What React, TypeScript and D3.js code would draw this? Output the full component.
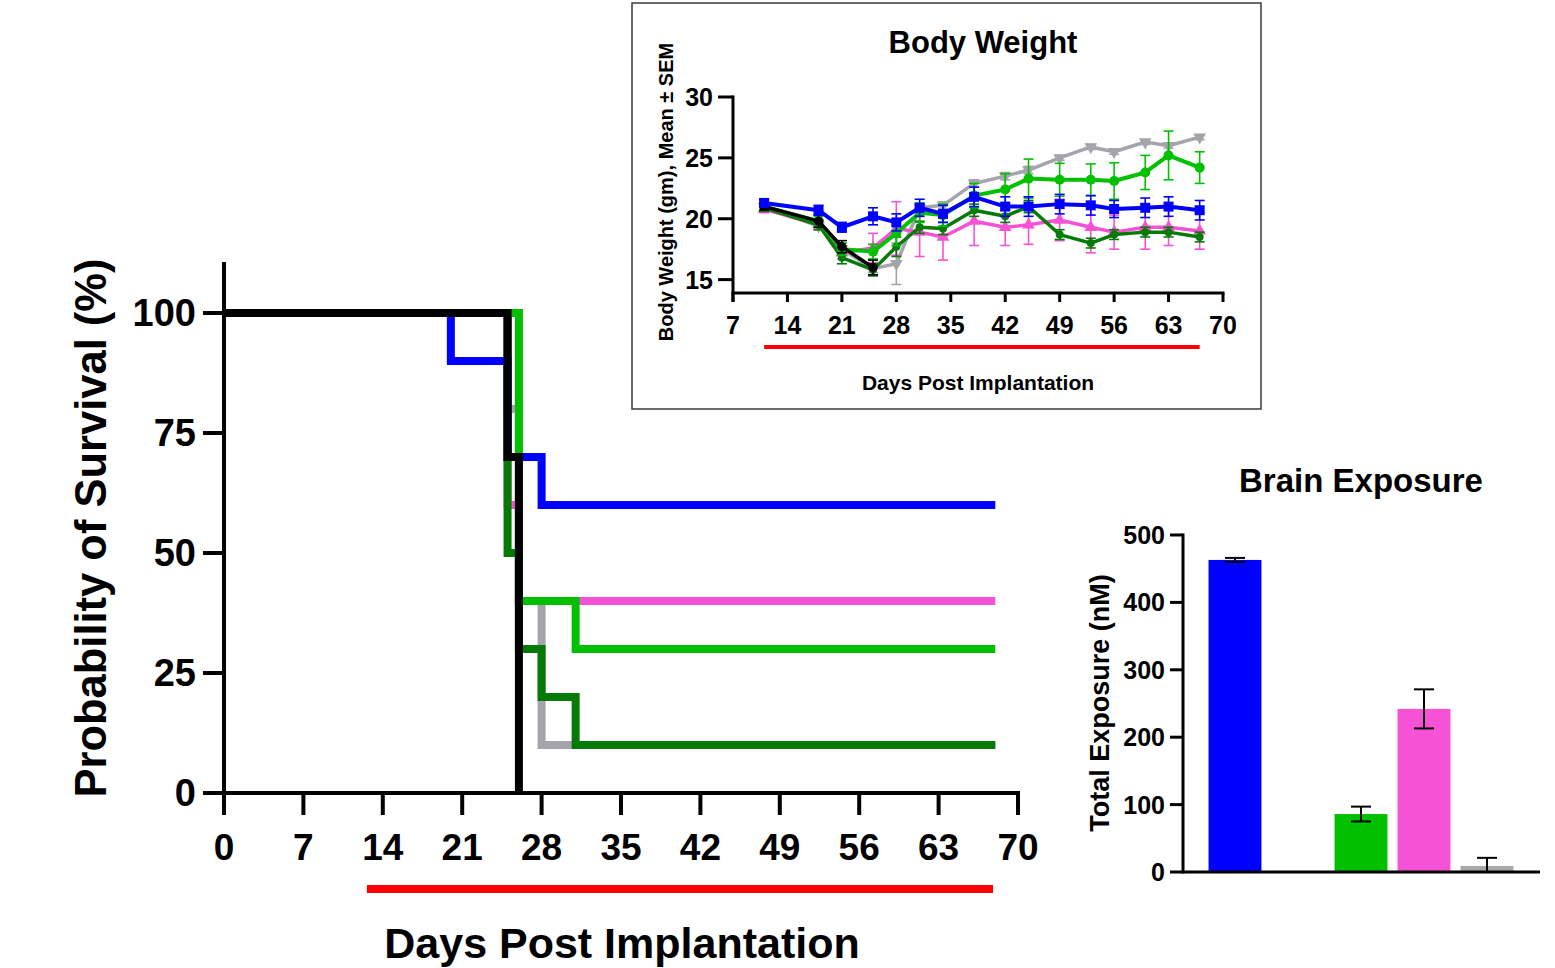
import React from 'react';
import * as d3 from 'd3';

// ---------- Survival (Kaplan-Meier) ----------
const survGrayDays = [0, 25, 26, 28, 68];
const survGrayPct = [100, 80, 40, 10, 10];
const survPinkDays = [0, 25, 26, 68];
const survPinkPct = [100, 60, 40, 40];
const survDarkGreenDays = [0, 25, 26, 28, 31, 68];
const survDarkGreenPct = [100, 50, 30, 20, 10, 10];
const survGreenDays = [0, 26, 31, 68];
const survGreenPct = [100, 40, 30, 30];
const survBlueDays = [0, 20, 25, 28, 68];
const survBluePct = [100, 90, 70, 60, 60];
const survBlackDays = [0, 25, 26];
const survBlackPct = [100, 70, 0];

const survXTicks = [0, 7, 14, 21, 28, 35, 42, 49, 56, 63, 70];
const survYTicks = [0, 25, 50, 75, 100];
const survTreatment = [12.6, 67.8];

// ---------- Body weight ----------
const bwDays = [11, 18, 21, 25, 28, 31, 34, 38, 42, 45, 49, 53, 56, 60, 63, 67];
const bwGray = [21.0, 19.4, 17.5, 15.9, 16.3, 20.9, 21.1, 22.9, 23.5, 24.0, 25.0, 25.9, 25.5, 26.3, 26.0, 26.7];
const bwGrayErr = [0.2, 0.3, 0.3, 0.3, 1.7, 0.3, 0.3, 0.3, 0.3, 0.3, 0.2, 0.2, 0.2, 0.2, 0.2, 0.2];
const bwPink = [20.8, 19.5, 17.2, 17.6, 19.2, 18.9, 18.5, 19.8, 19.3, 19.5, 19.9, 19.3, 18.9, 19.3, 19.3, 19.0];
const bwPinkErr = [0.3, 0.4, 0.5, 1.2, 2.2, 2.0, 1.9, 2.0, 1.5, 1.6, 1.7, 2.1, 1.4, 1.8, 1.5, 1.5];
const bwDarkGreen = [20.9, 19.5, 16.8, 15.8, 17.7, 19.3, 19.2, 20.7, 20.2, 21.0, 18.7, 18.0, 18.7, 18.9, 18.9, 18.5];
const bwDarkGreenErr = [0.3, 0.4, 0.5, 0.5, 0.8, 0.5, 0.5, 0.5, 0.5, 0.5, 0.4, 0.4, 0.4, 0.4, 0.4, 0.4];
const bwGreen = [21.0, 19.8, 17.5, 17.3, 18.8, 20.5, 20.3, 21.9, 22.4, 23.3, 23.2, 23.2, 23.1, 23.8, 25.2, 24.2];
const bwGreenErr = [0.3, 0.4, 0.5, 0.6, 1.0, 0.8, 0.9, 1.0, 1.3, 1.6, 1.35, 1.3, 1.5, 1.4, 2.0, 1.3];
const bwBlackDays = [11, 18, 21, 25];
const bwBlack = [21.0, 19.8, 17.7, 16.0];
const bwBlackErr = [0.3, 0.5, 0.5, 0.6];
const bwBlue = [21.3, 20.7, 19.3, 20.2, 19.7, 20.9, 20.4, 21.8, 21.0, 21.0, 21.2, 21.1, 20.8, 20.9, 21.0, 20.7];
const bwBlueErr = [0.3, 0.4, 0.4, 0.7, 0.7, 0.7, 0.7, 0.8, 0.8, 0.8, 0.8, 0.8, 0.7, 0.8, 0.8, 0.8];

const bwXTicks = [7, 14, 21, 28, 35, 42, 49, 56, 63, 70];
const bwYTicks = [15, 20, 25, 30];
const bwTreatment = [11, 67];

// ---------- Brain exposure ----------
const exposureGroups = ['Blue', 'DarkGreen', 'Green', 'Pink', 'Gray'];
const exposureValues = [463, null, 86, 242, 9];
const exposureErrors = [3, null, 11, 29, 12];
const exposureTicks = [0, 100, 200, 300, 400, 500];

const C = {
  blue: '#0000ff',
  green: '#00c000',
  dark: '#067a06',
  pink: '#f652d6',
  gray: '#a4a4ac',
  black: '#000000',
  red: '#ff0000',
};
const FONT = '"Liberation Sans", Arial, Helvetica, sans-serif';

export default function App() {
  // ---- survival scales
  const sx = d3.scaleLinear().domain([0, 70]).range([224, 1018]);
  const sy = d3.scaleLinear().domain([0, 100]).range([793, 313]);
  const stepLine = d3
    .line<[number, number]>()
    .x((d) => sx(d[0]))
    .y((d) => sy(d[1]))
    .curve(d3.curveStepAfter);
  const survSeries = [
    { days: survGrayDays, pct: survGrayPct, color: C.gray },
    { days: survPinkDays, pct: survPinkPct, color: C.pink },
    { days: survDarkGreenDays, pct: survDarkGreenPct, color: C.dark },
    { days: survBlueDays, pct: survBluePct, color: C.blue },
    { days: survGreenDays, pct: survGreenPct, color: C.green },
    { days: survBlackDays, pct: survBlackPct, color: C.black },
  ];

  // ---- body weight scales
  const bx = d3.scaleLinear().domain([7, 70]).range([733, 1223]);
  const by = d3.scaleLinear().domain([13.9, 30]).range([293, 97]);
  const bwLine = d3
    .line<[number, number]>()
    .x((d) => bx(d[0]))
    .y((d) => by(d[1]));
  const bwSeries = [
    { days: bwDays, v: bwGray, e: bwGrayErr, color: C.gray, sym: d3.symbolTriangle, size: 70, rot: 180, w: 3.5 },
    { days: bwDays, v: bwPink, e: bwPinkErr, color: C.pink, sym: d3.symbolTriangle, size: 70, rot: 0, w: 3.5 },
    { days: bwDays, v: bwDarkGreen, e: bwDarkGreenErr, color: C.dark, sym: d3.symbolCircle, size: 50, rot: 0, w: 3.5 },
    { days: bwDays, v: bwGreen, e: bwGreenErr, color: C.green, sym: d3.symbolCircle, size: 80, rot: 0, w: 4 },
    { days: bwBlackDays, v: bwBlack, e: bwBlackErr, color: C.black, sym: d3.symbolCircle, size: 70, rot: 0, w: 3.5 },
    { days: bwDays, v: bwBlue, e: bwBlueErr, color: C.blue, sym: d3.symbolSquare, size: 100, rot: 0, w: 4 },
  ];

  // ---- exposure scales
  const ex = d3.scaleBand<string>().domain(exposureGroups).range([1203.5, 1518.5]).paddingInner(0.16).paddingOuter(0.08);
  const ey = d3.scaleLinear().domain([0, 500]).range([872, 535]);
  const barColors: Record<string, string> = {
    Blue: C.blue,
    DarkGreen: C.dark,
    Green: C.green,
    Pink: C.pink,
    Gray: '#a8a8a8',
  };

  return (
    <svg
      width={1555}
      height={968}
      style={{ position: 'absolute', left: 0, top: 0, background: '#fff' }}
      fontFamily={FONT}
      fontWeight="bold"
    >
      {/* ================= Survival chart ================= */}
      <g>
        {survSeries.map((s, i) => (
          <path
            key={i}
            d={stepLine(s.days.map((d, j) => [d, s.pct[j]] as [number, number])) || ''}
            fill="none"
            stroke={s.color}
            strokeWidth={8}
            strokeLinejoin="miter"
            strokeLinecap="butt"
          />
        ))}
        {/* axes */}
        <line x1={sx(0)} x2={sx(0)} y1={262} y2={sy(0) + 2} stroke="#000" strokeWidth={4} />
        <line x1={sx(0) - 2} x2={sx(70) + 2} y1={sy(0)} y2={sy(0)} stroke="#000" strokeWidth={4} />
        {survYTicks.map((t) => (
          <g key={t}>
            <line x1={sx(0) - 21} x2={sx(0)} y1={sy(t)} y2={sy(t)} stroke="#000" strokeWidth={4} />
            <text x={196} y={sy(t)} textAnchor="end" dominantBaseline="central" fontSize={38}>
              {t}
            </text>
          </g>
        ))}
        {survXTicks.map((t) => (
          <g key={t}>
            <line x1={sx(t)} x2={sx(t)} y1={sy(0)} y2={sy(0) + 22} stroke="#000" strokeWidth={4} />
            <text x={sx(t)} y={847} textAnchor="middle" dominantBaseline="central" fontSize={37}>
              {t}
            </text>
          </g>
        ))}
        <line
          x1={sx(survTreatment[0])}
          x2={sx(survTreatment[1])}
          y1={889}
          y2={889}
          stroke={C.red}
          strokeWidth={8}
        />
        <text x={622} y={943} textAnchor="middle" dominantBaseline="central" fontSize={43}>
          Days Post Implantation
        </text>
        <text
          transform="translate(91,528) rotate(-90)"
          textAnchor="middle"
          dominantBaseline="central"
          fontSize={43.5}
        >
          Probability of Survival (%)
        </text>
      </g>

      {/* ================= Body weight inset ================= */}
      <g>
        <rect x={632} y={3} width={629} height={406} fill="#fff" stroke="#3a3a3a" strokeWidth={1.5} />
        <text x={983} y={42} textAnchor="middle" dominantBaseline="central" fontSize={31}>
          Body Weight
        </text>
        {bwSeries.map((s, i) => (
          <g key={i}>
            {s.days.map((d, j) => (
              <g key={j} stroke={s.color} strokeWidth={1.6}>
                <line x1={bx(d)} x2={bx(d)} y1={by(s.v[j] - s.e[j])} y2={by(s.v[j] + s.e[j])} />
                <line x1={bx(d) - 5} x2={bx(d) + 5} y1={by(s.v[j] - s.e[j])} y2={by(s.v[j] - s.e[j])} />
                <line x1={bx(d) - 5} x2={bx(d) + 5} y1={by(s.v[j] + s.e[j])} y2={by(s.v[j] + s.e[j])} />
              </g>
            ))}
            <path
              d={bwLine(s.days.map((d, j) => [d, s.v[j]] as [number, number])) || ''}
              fill="none"
              stroke={s.color}
              strokeWidth={s.w}
              strokeLinejoin="round"
            />
            {s.days.map((d, j) => (
              <path
                key={'m' + j}
                d={d3.symbol().type(s.sym).size(s.size)() || ''}
                transform={`translate(${bx(d)},${by(s.v[j])}) rotate(${s.rot})`}
                fill={s.color}
              />
            ))}
          </g>
        ))}
        <line x1={bx(7)} x2={bx(7)} y1={by(30) - 1.5} y2={by(13.9) + 9} stroke="#000" strokeWidth={3} />
        <line x1={bx(7) - 1.5} x2={bx(70) + 1.5} y1={by(13.9)} y2={by(13.9)} stroke="#000" strokeWidth={3} />
        {bwYTicks.map((t) => (
          <g key={t}>
            <line x1={bx(7) - 15} x2={bx(7)} y1={by(t)} y2={by(t)} stroke="#000" strokeWidth={3} />
            <text x={713} y={by(t)} textAnchor="end" dominantBaseline="central" fontSize={25}>
              {t}
            </text>
          </g>
        ))}
        {bwXTicks.map((t) => (
          <g key={t}>
            <line x1={bx(t)} x2={bx(t)} y1={by(13.9)} y2={by(13.9) + 9} stroke="#000" strokeWidth={3} />
            <text x={bx(t)} y={325} textAnchor="middle" dominantBaseline="central" fontSize={25}>
              {t}
            </text>
          </g>
        ))}
        <line x1={bx(bwTreatment[0])} x2={bx(bwTreatment[1])} y1={347} y2={347} stroke={C.red} strokeWidth={4} />
        <text x={978} y={382} textAnchor="middle" dominantBaseline="central" fontSize={21}>
          Days Post Implantation
        </text>
        <text
          transform="translate(666,192) rotate(-90)"
          textAnchor="middle"
          dominantBaseline="central"
          fontSize={20}
        >
          Body Weight (gm), Mean ± SEM
        </text>
      </g>

      {/* ================= Brain exposure ================= */}
      <g>
        <text x={1361} y={480} textAnchor="middle" dominantBaseline="central" fontSize={33}>
          Brain Exposure
        </text>
        {exposureGroups.map((g, i) => {
          const v = exposureValues[i];
          const e = exposureErrors[i];
          if (v == null || e == null) return null;
          const cx = (ex(g) || 0) + ex.bandwidth() / 2;
          return (
            <g key={g}>
              <rect
                x={ex(g)}
                y={ey(v)}
                width={ex.bandwidth()}
                height={ey(0) - ey(v)}
                fill={barColors[g]}
              />
              <g stroke="#000" strokeWidth={2}>
                <line x1={cx} x2={cx} y1={ey(Math.max(0, v - e))} y2={ey(v + e)} />
                <line x1={cx - 10} x2={cx + 10} y1={ey(v + e)} y2={ey(v + e)} />
                {v - e > 0 && <line x1={cx - 10} x2={cx + 10} y1={ey(v - e)} y2={ey(v - e)} />}
              </g>
            </g>
          );
        })}
        <line x1={1183} x2={1183} y1={ey(500) - 1.5} y2={ey(0) + 1.5} stroke="#000" strokeWidth={3} />
        <line x1={1183} x2={1540} y1={ey(0)} y2={ey(0)} stroke="#000" strokeWidth={3} />
        {exposureTicks.map((t) => (
          <g key={t}>
            <line x1={1170} x2={1183} y1={ey(t)} y2={ey(t)} stroke="#000" strokeWidth={3} />
            <text x={1165} y={ey(t)} textAnchor="end" dominantBaseline="central" fontSize={25}>
              {t}
            </text>
          </g>
        ))}
        <text
          transform="translate(1100,703) rotate(-90)"
          textAnchor="middle"
          dominantBaseline="central"
          fontSize={27}
        >
          Total Exposure (nM)
        </text>
      </g>
    </svg>
  );
}
